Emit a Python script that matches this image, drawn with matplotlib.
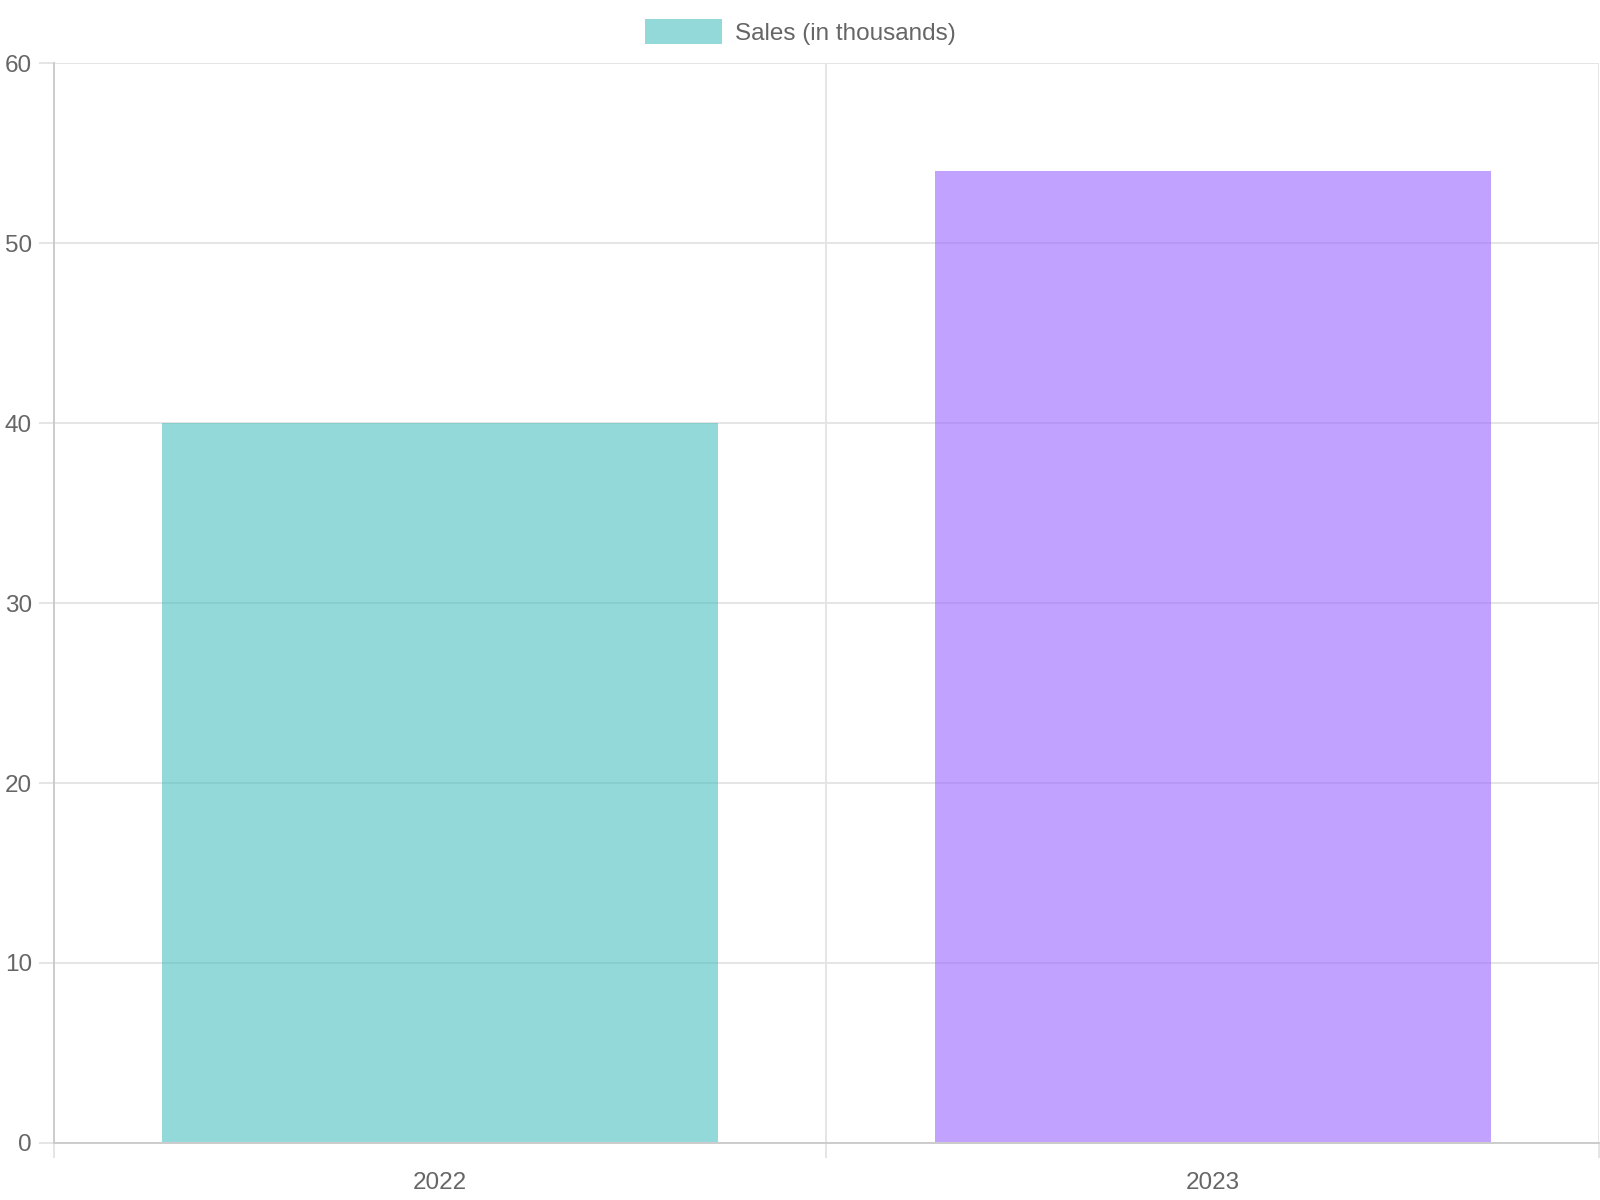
import matplotlib.pyplot as plt
from matplotlib.ticker import FixedLocator

years = ['2022', '2023']
sales = [40, 54]
bar_colors = [(75/255, 192/255, 192/255, 0.6), (153/255, 102/255, 255/255, 0.6)]
y_ticks = [0, 10, 20, 30, 40, 50, 60]

plt.rcParams['font.family'] = ['Liberation Sans', 'DejaVu Sans']
text_col = '#666666'
grid_col = '#e5e5e5'
axis_col = '#cccccc'
fs = 17.5

fig = plt.figure(figsize=(16, 12), dpi=100)
ax = fig.add_axes([0.0338, 0.0476, 0.9655, 0.8997])

x = list(range(len(years)))
ax.bar(x, sales, width=0.72, color=bar_colors, linewidth=0, zorder=2,
       label='Sales (in thousands)')

ax.set_xlim(-0.5, len(years) - 0.5)
ax.set_ylim(0, 60)
ax.set_yticks(y_ticks)

# category boundaries carry the grid lines, labels sit at the centres
ax.xaxis.set_major_locator(FixedLocator([i - 0.5 for i in range(len(years) + 1)]))
ax.xaxis.set_minor_locator(FixedLocator(x))
ax.set_xticklabels([], minor=False)
ax.set_xticklabels(years, minor=True)
ax.tick_params(axis='x', which='major', length=11, width=1.4, color=grid_col)
ax.tick_params(axis='x', which='minor', length=0, pad=21, labelsize=fs, labelcolor=text_col)
ax.tick_params(axis='y', length=11, width=1.4, color=grid_col, pad=5,
               labelsize=fs, labelcolor=text_col)

ax.grid(True, which='major', color=grid_col, linewidth=1.4, zorder=0)
ax.set_axisbelow(True)

for side in ['top', 'right']:
    ax.spines[side].set_visible(False)
for side in ['left', 'bottom']:
    ax.spines[side].set_color(axis_col)
    ax.spines[side].set_linewidth(1.4)

leg = fig.legend(loc='upper center', bbox_to_anchor=(0.5, 0.9965), frameon=False,
                 fontsize=fs, handlelength=3.2, handleheight=1.25, handletextpad=0.5,
                 borderpad=0.1, labelcolor=text_col)
leg.legend_handles[0].set_color(bar_colors[0])

fig.savefig('out.png', dpi=100)
